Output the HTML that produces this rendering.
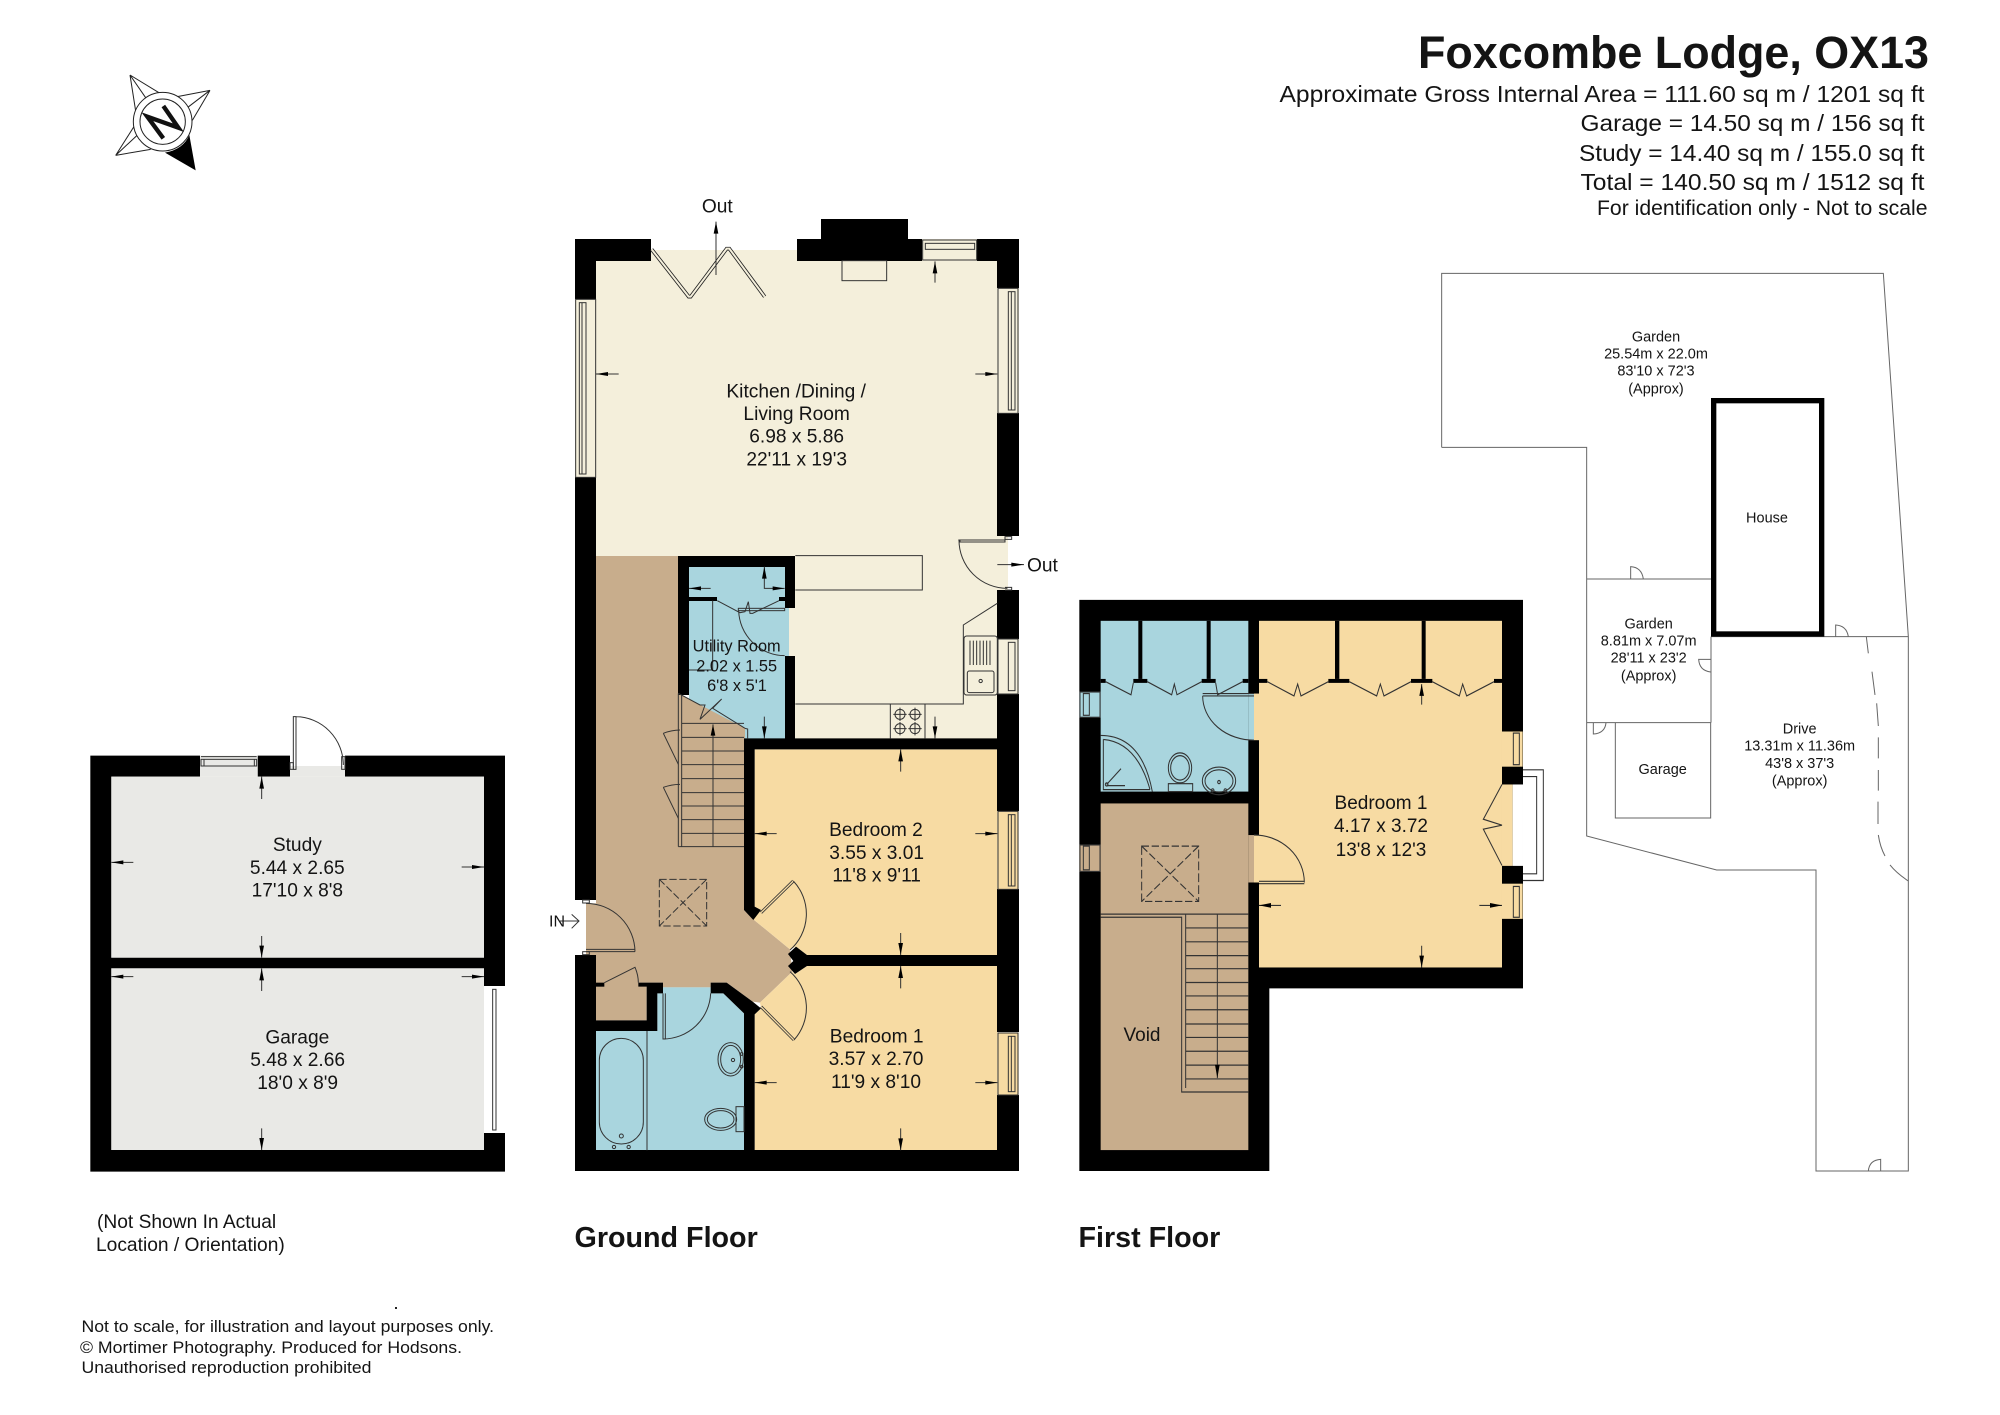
<!DOCTYPE html>
<html><head><meta charset="utf-8"><title>Foxcombe Lodge floor plan</title>
<style>
html,body{margin:0;padding:0;background:#fff}
svg{display:block}
text{font-family:"Liberation Sans",Arial,sans-serif;fill:#141414}
.l{fill:none;stroke:#333;stroke-width:3}
.s{fill:none;stroke:#666;stroke-width:3}
.d{fill:none;stroke:#333;stroke-width:3;stroke-dasharray:22 8}
.c{text-anchor:middle}
.t{font-size:57.5px}
.u{font-size:49px}
.m{font-size:43.5px}
</style></head><body>
<svg width="2000" height="1415" viewBox="0 0 2000 1415" xmlns="http://www.w3.org/2000/svg">
<rect width="2000" height="1415" fill="#fff"/>

<!-- Header -->
<text x="1418" y="68" font-size="45" font-weight="bold" textLength="511" lengthAdjust="spacingAndGlyphs">Foxcombe Lodge, OX13</text>
<text x="1279.5" y="102" font-size="23" textLength="645" lengthAdjust="spacingAndGlyphs">Approximate Gross Internal Area = 111.60 sq m / 1201 sq ft</text>
<text x="1580.5" y="131" font-size="23" textLength="344" lengthAdjust="spacingAndGlyphs">Garage = 14.50 sq m / 156 sq ft</text>
<text x="1579" y="161" font-size="23" textLength="345.5" lengthAdjust="spacingAndGlyphs">Study = 14.40 sq m / 155.0 sq ft</text>
<text x="1580.5" y="190" font-size="23" textLength="344" lengthAdjust="spacingAndGlyphs">Total = 140.50 sq m / 1512 sq ft</text>
<text x="1597" y="215" font-size="21" textLength="330.5" lengthAdjust="spacingAndGlyphs">For identification only - Not to scale</text>

<!-- Footer -->
<text x="97" y="1228" font-size="19.2">(Not Shown In Actual</text>
<text x="96" y="1251" font-size="19.2">Location / Orientation)</text>
<text x="574.5" y="1247" font-size="28.7" font-weight="bold">Ground Floor</text>
<text x="1078.5" y="1247" font-size="28.7" font-weight="bold">First Floor</text>
<text x="81.5" y="1332" font-size="17" textLength="412.5" lengthAdjust="spacingAndGlyphs">Not to scale, for illustration and layout purposes only.</text>
<text x="80" y="1353" font-size="17" textLength="382" lengthAdjust="spacingAndGlyphs">© Mortimer Photography. Produced for Hodsons.</text>
<text x="81.5" y="1373" font-size="17" textLength="290" lengthAdjust="spacingAndGlyphs">Unauthorised reproduction prohibited</text>
<rect x="395" y="1307" width="2" height="2" fill="#222"/>

<!-- Compass -->
<g transform="translate(100 51) scale(.33333)">
<path d="M90 72L180 127M90 72L107 180M90 72L137 140M330 118L232 137M330 118L277 208M330 118L262 170M47 313L103 225M47 313L152 295M47 313L120 245" fill="none" stroke="#222" stroke-width="3"/>
<circle cx="188" cy="212" r="88" fill="#fff" stroke="#222" stroke-width="3"/>
<circle cx="188" cy="212" r="68" fill="#fff" stroke="#222" stroke-width="3"/>
<path d="M190 262L142 197L235 230L190 165" fill="none" stroke="#111" stroke-width="13"/>
<path d="M195 305Q250 295 268 252L287 358Z" fill="#000"/>
</g>

<!-- GROUND FLOOR fills -->
<g fill="#f4efdb">
<rect x="596" y="261" width="401" height="295"/>
<rect x="651" y="250" width="146" height="11"/>
<rect x="785" y="556" width="212" height="183"/>
<rect x="997" y="536" width="11" height="54"/>
<rect x="575" y="299" width="21" height="178"/>
<rect x="997" y="288" width="22" height="125"/>
<rect x="997" y="639" width="22" height="55"/>
<rect x="922" y="239" width="55" height="22"/>
</g>
<rect x="689" y="567" width="100" height="172" fill="#a9d5de"/>
<g transform="translate(560 680) scale(.33333)">
<path fill="#c8ad8c" d="M108 -372H355V40L555 145V175H552V690L580 718L690 808L697 875L600 968L578 965L500 908H452V922H309V908H235L260 920V1021H108Z"/>
<rect x="78" y="670" width="30" height="155" fill="#c8ad8c"/>
<path fill="#a9d5de" d="M309 922H452V940H490L552 1000V1411H108V1053H292V940H309Z"/>
<path fill="#f7dba3" d="M584 208H1312V825H741L708 800L690 808L580 718L603 690L584 680Z"/>
<path fill="#f7dba3" d="M741 858H1312V1411H584V1003L603 985L600 968L697 875L705 882Z"/>
<rect x="1312" y="392" width="64" height="236" fill="#f7dba3"/>
<rect x="1312" y="1057" width="64" height="189" fill="#f7dba3"/>
</g>

<!-- GROUND FLOOR walls -->
<g fill="#000">
<rect x="575" y="239" width="76" height="22"/>
<rect x="797" y="239" width="125" height="22"/>
<rect x="977" y="239" width="42" height="22"/>
<rect x="821" y="219" width="87" height="20"/>
<rect x="575" y="239" width="21" height="60"/>
<rect x="575" y="477" width="21" height="423"/>
<rect x="575" y="955" width="21" height="216"/>
<rect x="997" y="239" width="22" height="49"/>
<rect x="997" y="413" width="22" height="123"/>
<rect x="997" y="590" width="22" height="49"/>
<rect x="997" y="694" width="22" height="117"/>
<rect x="997" y="889" width="22" height="143"/>
<rect x="997" y="1095" width="22" height="76"/>
<rect x="575" y="1150" width="444" height="21"/>
<!-- utility walls -->
<rect x="678" y="556" width="117" height="11"/>
<rect x="678" y="556" width="11" height="139"/>
<rect x="785" y="556" width="10" height="52"/>
<rect x="785" y="656" width="10" height="83"/>
<rect x="689" y="597" width="28" height="4"/>
<rect x="779" y="597" width="6" height="4"/>
</g>
<g transform="translate(560 680) scale(.33333)" fill="#000">
<path d="M552 175H1312V208H584V680L603 690L580 720L552 690Z"/>
<path d="M1312 825H741L708 800L684 822L700 843L684 858L705 882L741 858H1312Z"/>
<path d="M452 908H500L578 965L603 985L584 1003V1411H552V1000L490 940H452Z"/>
<path d="M235 908H309V940H292V1053H108V1021H260V920H235Z"/>
<rect x="108" y="908" width="25" height="12"/>
</g>

<!-- Ground floor upper details (zoom A coordinates) -->
<g transform="translate(560 190) scale(.33333)">
<path d="M275 178L386 320L392 320L500 176L508 176L614 320" fill="none" stroke="#222" stroke-width="11" stroke-linejoin="miter"/>
<path d="M275 178L386 320L392 320L500 176L508 176L614 320" fill="none" stroke="#f4efdb" stroke-width="6"/>
<rect x="846" y="212" width="134" height="60" class="l"/>
<!-- windows -->
<rect x="1088" y="150" width="162" height="60" class="l"/>
<rect x="1096" y="160" width="148" height="18" class="l"/>
<rect x="47" y="328" width="60" height="534" class="l"/>
<rect x="58" y="338" width="20" height="514" class="l"/>
<path class="l" d="M66 338V852"/>
<rect x="1314" y="295" width="60" height="375" class="l"/>
<rect x="1345" y="305" width="20" height="355" class="l"/>
<path class="l" d="M1354 305V660"/>
<rect x="1314" y="1347" width="60" height="165" class="l"/>
<rect x="1345" y="1357" width="20" height="145" class="l"/>
<!-- right door -->
<path class="l" d="M1195 1050H1335V1040H1355V1048H1335V1056H1200V1050M1197 1050A145 145 0 0 0 1342 1195M1335 1192H1355V1200H1335"/>
<!-- island -->
<path class="l" d="M706 1097H1087V1200H706"/>
<!-- kitchen units -->
<path class="l" d="M1312 1240L1210 1305V1542H706"/>
<rect x="1212" y="1338" width="100" height="177" rx="8" class="l"/>
<rect x="1222" y="1443" width="80" height="65" rx="6" class="l"/>
<circle cx="1262" cy="1473" r="5" class="l"/>
<path class="l" d="M1230 1352V1425M1240 1352V1425M1250 1352V1425M1260 1352V1425M1270 1352V1425M1280 1352V1425M1290 1352V1425"/>
<!-- utility details -->
<path class="l" d="M458 1232V1440H387"/>
<rect x="535" y="1255" width="139" height="7" class="l"/>
<path class="l" d="M536 1262A139 139 0 0 0 674 1397"/>
<path class="l" d="M472 1232L540 1268L555 1265L565 1235L570 1270L578 1270L657 1232"/>
<!-- arrows -->
<path class="l" d="M108 552h68M1312 552h-66M1125 214v64M468 95v160M1312 1124h80M613 1130v65h61M387 1195h65"/>
<path fill="#000" d="M108 552l36-6v12zM1312 552l-36-6v12zM1125 214l-7 36h14zM468 95l-7 36h14zM1392 1124l-38-6v12zM613 1130l-7 36h14zM674 1195l-36-6v12zM387 1195l36-6v12z"/>
<text class="c t" x="472" y="68">Out</text>
<text class="t" x="1401" y="1145">Out</text>
<text class="c t" x="708.5" y="622">Kitchen /Dining /</text>
<text class="c t" x="710" y="690">Living Room</text>
<text class="c t" x="710" y="758">6.98 x 5.86</text>
<text class="c t" x="710" y="827">22'11 x 19'3</text>
<text class="c u" x="530" y="1385">Utility Room</text>
<text class="c u" x="530" y="1445">2.02 x 1.55</text>
<text class="c u" x="531" y="1503">6'8 x 5'1</text>
</g>

<!-- Ground floor lower details (zoom B coordinates) -->
<g transform="translate(560 680) scale(.33333)">
<!-- stairs -->
<path class="l" d="M365 130H552M365 172H552M365 213H552M365 254H552M365 296H552M365 338H552M365 378H552M365 419H552M365 460H552M355 500H552M355 40V500M365 45V500M459 133V500M555 145L563 147V175"/>
<path class="l" d="M355 40L420 75L435 75L420 118L485 57L458 85L555 145"/>
<path class="l" d="M310 160L355 253M310 160Q335 150 360 150M310 322L355 415M310 322Q335 313 360 313"/>
<path fill="#000" d="M459 133l-7 34h14z"/>
<!-- hatch -->
<rect x="298" y="598" width="142" height="140" class="d"/>
<path class="d" d="M298 598L440 738M440 598L298 738"/>
<!-- doors -->
<path class="l" d="M78 670A147 147 0 0 1 225 815M78 808H225M78 815H225"/>
<rect x="68" y="660" width="20" height="9" class="l" fill="#fff"/>
<rect x="68" y="815" width="20" height="9" class="l" fill="#fff"/>
<path d="M603 698L700 603" fill="none" stroke="#333" stroke-width="9"/>
<path d="M603 698L700 603" fill="none" stroke="#f7dba3" stroke-width="4"/>
<path class="l" d="M700 603A144 144 0 0 1 690 810"/>
<path d="M603 980L702 1080" fill="none" stroke="#333" stroke-width="9"/>
<path d="M603 980L702 1080" fill="none" stroke="#f7dba3" stroke-width="4"/>
<path class="l" d="M702 1080A144 144 0 0 0 690 875"/>
<path class="l" d="M309 940V1077H316V940M309 1077A143 143 0 0 0 452 940"/>
<path class="l" d="M133 908L225 862Q235 885 235 908"/>
<!-- bath -->
<rect x="118" y="1075" width="132" height="317" rx="66" class="l"/>
<circle cx="184" cy="1368" r="6" class="l"/><circle cx="162" cy="1401" r="5" class="l"/><circle cx="206" cy="1401" r="5" class="l"/>
<path class="l" d="M261 1053V1411"/>
<ellipse cx="512" cy="1138" rx="38" ry="50" class="l"/><ellipse cx="512" cy="1138" rx="30" ry="42" class="l"/>
<circle cx="519" cy="1140" r="5" class="l"/><circle cx="545" cy="1122" r="4" class="l"/><circle cx="545" cy="1160" r="4" class="l"/>
<ellipse cx="482" cy="1318" rx="48" ry="33" class="l"/><ellipse cx="482" cy="1318" rx="40" ry="26" class="l"/>
<rect x="528" y="1280" width="24" height="75" class="l"/>
<!-- windows -->
<rect x="1314" y="394" width="60" height="234" class="l"/>
<rect x="1345" y="404" width="20" height="214" class="l"/>
<path class="l" d="M1354 404V618"/>
<rect x="1314" y="1059" width="60" height="186" class="l"/>
<rect x="1345" y="1069" width="20" height="166" class="l"/>
<path class="l" d="M1354 1069V1235"/>
<!-- hob -->
<path class="l" d="M991 72V175M1095 72V175"/>
<g class="l"><circle cx="1020" cy="103" r="15"/><circle cx="1065" cy="103" r="15"/><circle cx="1020" cy="146" r="15"/><circle cx="1065" cy="146" r="15"/>
<path d="M1000 103h40M1045 103h40M1000 146h40M1045 146h40M1020 83v40M1065 83v40M1020 126v40M1065 126v40"/></g>
<!-- arrows -->
<path class="l" d="M613 110v65M1125 110v65M1022 208v67M584 461h66M1312 461h-66M1022 759v66M1022 858v67M584 1208h66M1312 1208h-66M1022 1345v66M0 723h55M35 703L57 723L35 745"/>
<path fill="#000" d="M613 175l-7-36h14zM1125 175l-7-36h14zM1022 208l-7 36h14zM584 461l36-6v12zM1312 461l-36-6v12zM1022 825l-7-36h14zM1022 858l-7 36h14zM584 1208l36-6v12zM1312 1208l-36-6v12zM1022 1411l-7-36h14z"/>
<text class="c t" x="948" y="468">Bedroom 2</text>
<text class="c t" x="950" y="537">3.55 x 3.01</text>
<text class="c t" x="950" y="605">11'8 x 9'11</text>
<text class="c t" x="950" y="1087">Bedroom 1</text>
<text class="c t" x="948" y="1155">3.57 x 2.70</text>
<text class="c t" x="948" y="1224">11'9 x 8'10</text>
<text x="-33" y="740" font-size="48">IN</text>
</g>

<!-- STUDY / GARAGE -->
<g transform="translate(70 700) scale(.33333)">
<path fill="#000" d="M61 167H390V230H124V773H1242V230H825V167H1305V858H1242V805H124V1350H1242V1299H1305V1415H61ZM563 167H660V230H563Z"/>
<rect x="124" y="230" width="1118" height="543" fill="#e9e9e6"/>
<rect x="124" y="805" width="1118" height="545" fill="#e9e9e6"/>
<rect x="660" y="198" width="165" height="32" fill="#e9e9e6"/>
<rect x="390" y="167" width="173" height="63" fill="#e9e9e6"/>
<rect x="393" y="178" width="167" height="20" class="l"/>
<path class="l" d="M393 170H560M402 178V198M553 178V198"/>
<path class="l" d="M670 50V208H678V50ZM678 50A145 145 0 0 1 820 195"/>
<rect x="660" y="188" width="10" height="20" class="l"/><rect x="815" y="170" width="10" height="38" class="l"/>
<rect x="1268" y="868" width="10" height="422" class="l"/>
<path class="l" d="M575 230v67M124 487h66M1242 501h-67M575 708v65M575 805v68M124 830h66M1242 830h-67M575 1285v65"/>
<path fill="#000" d="M575 230l-7 36h14zM124 487l36-6v12zM1242 501l-36-6v12zM575 773l-7-36h14zM575 805l-7 36h14zM124 830l36-6v12zM1242 830l-36-6v12zM575 1350l-7-36h14z"/>
<text class="c t" x="682" y="453">Study</text>
<text class="c t" x="682" y="522">5.44 x 2.65</text>
<text class="c t" x="682" y="590">17'10 x 8'8</text>
<text class="c t" x="682" y="1030">Garage</text>
<text class="c t" x="683" y="1098">5.48 x 2.66</text>
<text class="c t" x="683" y="1167">18'0 x 8'9</text>
</g>

<!-- FIRST FLOOR -->
<g transform="translate(1070 590) scale(.33333 .39526)">
<path fill="#000" d="M28 25H1359V1008H598V1470H28Z"/>
<rect x="92" y="78" width="443" height="432" fill="#a9d5de"/>
<rect x="535" y="262" width="17" height="118" fill="#a9d5de"/>
<rect x="92" y="540" width="443" height="877" fill="#c8ad8c"/>
<rect x="535" y="620" width="17" height="120" fill="#c8ad8c"/>
<rect x="567" y="78" width="729" height="877" fill="#f7dba3"/>
<rect x="552" y="262" width="15" height="118" fill="#f7dba3"/>
<rect x="552" y="620" width="15" height="120" fill="#f7dba3"/>
<rect x="1296" y="358" width="62" height="89" fill="#f7dba3"/>
<rect x="1296" y="743" width="62" height="89" fill="#f7dba3"/>
<rect x="1296" y="492" width="32" height="206" fill="#f7dba3"/>
<rect x="1328" y="492" width="31" height="206" fill="#fff"/>
<rect x="28" y="258" width="64" height="64" fill="#a9d5de"/>
<rect x="28" y="645" width="64" height="67" fill="#c8ad8c"/>
<!-- partitions -->
<g fill="#000">
<rect x="205" y="78" width="12" height="147"/><rect x="190" y="225" width="42" height="10"/>
<rect x="410" y="78" width="12" height="147"/><rect x="395" y="225" width="42" height="10"/>
<rect x="92" y="225" width="15" height="10"/><rect x="518" y="225" width="17" height="10"/>
<rect x="795" y="78" width="13" height="147"/><rect x="775" y="225" width="63" height="10"/>
<rect x="1055" y="78" width="12" height="147"/><rect x="1023" y="225" width="64" height="10"/>
<rect x="567" y="225" width="25" height="10"/><rect x="1272" y="225" width="24" height="10"/>
</g>
<path class="l" d="M107 232L183 265L190 235M232 232L305 265L313 238L321 265L395 232M437 235L443 265L518 232M592 232L672 268L683 238L693 268L775 232M838 232L920 268L931 238L942 268L1023 232M1087 232L1168 268L1178 238L1190 268L1272 232"/>
<path class="l" d="M398 262H552M398 268H552M398 268A154 112 0 0 0 552 380"/>
<path class="l" d="M92 368Q215 368 247 510M100 378Q200 385 240 505M100 378V505H240"/>
<path class="l" d="M110 492L153 452M110 495H165"/><circle cx="110" cy="492" r="4" class="l"/>
<ellipse cx="330" cy="450" rx="35" ry="38" class="l"/><ellipse cx="330" cy="450" rx="28" ry="31" class="l"/>
<rect x="295" y="490" width="73" height="20" class="l"/>
<ellipse cx="447" cy="483" rx="50" ry="35" class="l"/><ellipse cx="447" cy="483" rx="42" ry="28" class="l"/>
<circle cx="447" cy="486" r="4" class="l"/><circle cx="428" cy="507" r="4" class="l"/><circle cx="466" cy="507" r="4" class="l"/>
<rect x="40" y="262" width="18" height="55" class="l"/>
<rect x="30" y="258" width="60" height="64" class="l"/>
<rect x="40" y="648" width="18" height="60" class="l"/>
<rect x="30" y="645" width="60" height="67" class="l"/>
<rect x="1330" y="362" width="18" height="80" class="l"/>
<rect x="1330" y="750" width="18" height="78" class="l"/>
<path class="l" d="M1359 455H1420V735H1359M1359 472H1400V718H1359M1296 492L1240 580L1296 595L1240 605L1296 697"/>
<path class="l" d="M552 620A150 120 0 0 1 703 740M567 737H703M567 743H703"/>
<rect x="215" y="648" width="171" height="140" class="d"/>
<path class="d" d="M215 648L386 788M386 648L215 788"/>
<path class="l" d="M92 820H535M92 828H335V1270H535M347 820V1260M347 855H535M347 890H535M347 925H535M347 958H535M347 993H535M347 1027H535M347 1062H535M347 1098H535M347 1132H535M347 1167H535M347 1202H535M347 1237H535M442 820V1235"/>
<path class="l" d="M1055 238v52M567 798h66M1296 798h-68M1055 900v55"/>
<path fill="#000" d="M442 1235l-7-34h14zM1055 238l-7 30h14zM567 798l36-6v12zM1296 798l-36-6v12zM1055 955l-7-30h14z"/>
</g>
<text x="1381" y="809" font-size="19" text-anchor="middle">Bedroom 1</text>
<text x="1381" y="832" font-size="19" text-anchor="middle">4.17 x 3.72</text>
<text x="1381" y="856" font-size="19" text-anchor="middle">13'8 x 12'3</text>
<text x="1142" y="1041" font-size="19" text-anchor="middle">Void</text>

<!-- SITE PLAN -->
<g transform="translate(1560 260) scale(.33333)">
<path class="s" d="M-355 562V40H970L1045 1130V2733H768V1830H470L80 1728V562H-355"/>
<path class="s" d="M80 957H453M453 1130H1045M453 1130V1388M80 1388H452M166 1388V1674H452V1388"/>
<rect x="461" y="422" width="324" height="700" fill="#fff" stroke="#000" stroke-width="16"/>
<path class="s" d="M212 957V920Q245 922 250 957M827 1130V1095Q860 1097 865 1130M452 1198H416Q418 1232 452 1236M100 1388V1422Q135 1420 138 1388M962 2733V2698Q928 2700 925 2733"/>
<path class="s" d="M919 1130L925 1180M936 1235L945 1305M950 1330L955 1398M955 1432V1495M955 1530V1592M954 1625V1692M955 1725Q960 1760 975 1788M990 1815Q1010 1840 1045 1863"/>
<g class="c m">
<text x="288" y="245">Garden</text>
<text x="288" y="296">25.54m x 22.0m</text>
<text x="288" y="347">83'10 x 72'3</text>
<text x="288" y="400">(Approx)</text>
<text x="621" y="788">House</text>
<text x="266" y="1105">Garden</text>
<text x="266" y="1157">8.81m x 7.07m</text>
<text x="266" y="1208">28'11 x 23'2</text>
<text x="266" y="1262">(Approx)</text>
<text x="719" y="1420">Drive</text>
<text x="719" y="1472">13.31m x 11.36m</text>
<text x="719" y="1524">43'8 x 37'3</text>
<text x="719" y="1577">(Approx)</text>
<text x="308" y="1542">Garage</text>
</g>
</g>
</svg>
</body></html>
